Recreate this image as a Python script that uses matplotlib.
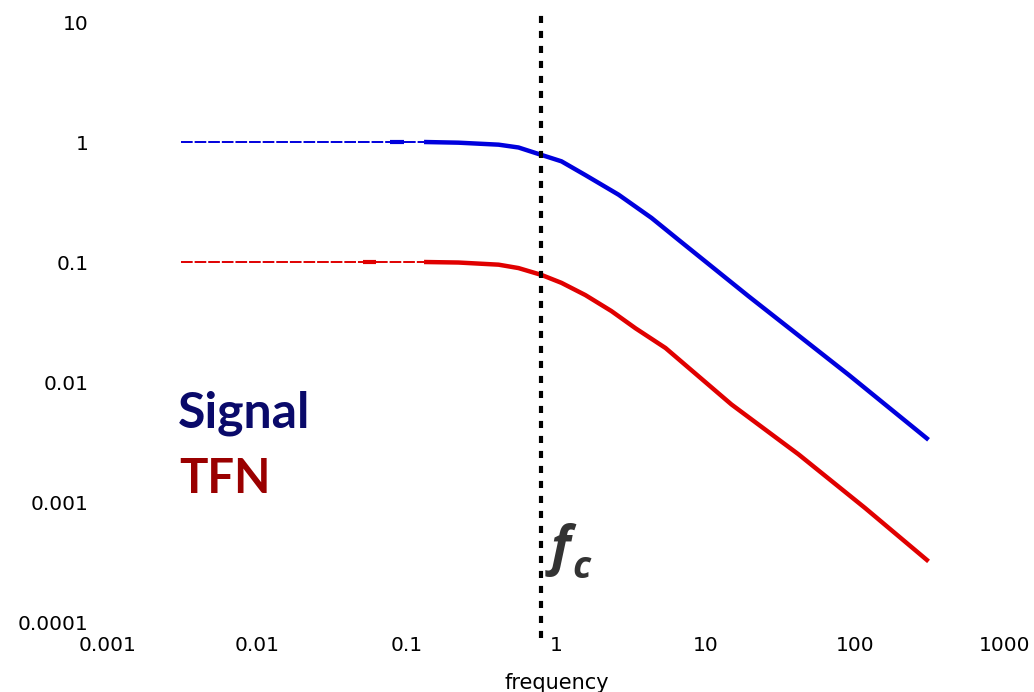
import matplotlib.pyplot as plt
from matplotlib.ticker import FixedLocator, NullLocator

plt.rcParams['font.family'] = 'DejaVu Sans'

# transfer curves
signal_freq = [0.0031, 0.077, 0.095, 0.13, 0.221, 0.41, 0.557, 0.794, 1.08, 1.56,
               2.60, 4.32, 6.55, 19.2, 89.8, 308]
signal_vals = [1.0, 1.0, 1.0, 1.0, 0.987, 0.95, 0.90, 0.78, 0.69, 0.53,
               0.364, 0.233, 0.153, 0.052, 0.0115, 0.0033]

tfn_freq = [0.0031, 0.051, 0.062, 0.13, 0.221, 0.41, 0.557, 0.794, 1.08, 1.56,
            2.33, 3.38, 5.36, 14.8, 41.5, 116, 308]
tfn_vals = [0.1, 0.1, 0.1, 0.1, 0.099, 0.095, 0.089, 0.078, 0.067, 0.053,
            0.039, 0.028, 0.0192, 0.0065, 0.0025, 0.00089, 0.00032]

f_cut = 0.79

x_ticks = [0.001, 0.01, 0.1, 1, 10, 100, 1000]
x_labels = ['0.001', '0.01', '0.1', '1', '10', '100', '1000']
y_ticks = [0.0001, 0.001, 0.01, 0.1, 1, 10]
y_labels = ['0.0001', '0.001', '0.01', '0.1', '1', '10']

blue = '#0000dd'
red = '#e00000'

fig = plt.figure(figsize=(10.34, 6.92), dpi=100)
ax = fig.add_axes([108 / 1034, 1 - 622 / 692, 897 / 1034, 600 / 692])
ax.set_xscale('log')
ax.set_yscale('log')
ax.set_xlim(0.001, 1000)
ax.set_ylim(0.0001, 10)


def draw_curve(f, v, color):
    # thin dashed plateau, a short heavy piece, thin again, then heavy roll-off
    ax.plot(f[0:2], v[0:2], color=color, lw=1.4, dashes=(6, 1))
    ax.plot(f[1:3], v[1:3], color=color, lw=3, solid_capstyle='butt')
    ax.plot(f[2:4], v[2:4], color=color, lw=1.4, dashes=(6, 1))
    ax.plot(f[3:], v[3:], color=color, lw=3.2, solid_capstyle='butt',
            solid_joinstyle='round')


draw_curve(signal_freq, signal_vals, blue)
draw_curve(tfn_freq, tfn_vals, red)

ax.axvline(f_cut, ymin=-0.027, ymax=1.012, color='black', lw=3,
           dashes=(1.7, 1.9), clip_on=False)

for s in ax.spines.values():
    s.set_visible(False)
ax.xaxis.set_major_locator(FixedLocator(x_ticks))
ax.yaxis.set_major_locator(FixedLocator(y_ticks))
ax.xaxis.set_minor_locator(NullLocator())
ax.yaxis.set_minor_locator(NullLocator())
ax.set_xticklabels(x_labels)
ax.set_yticklabels(y_labels)
ax.tick_params(length=0, labelsize=14.5, pad=14)
ax.tick_params(axis='x', pad=10)
ax.set_xlabel('frequency', fontsize=15, labelpad=13)

fig.text(178 / 1034, 1 - 428 / 692, 'Signal', fontsize=36, fontweight='bold',
         family='Lato', color='#0a0a6a', va='baseline')
fig.text(179 / 1034, 1 - 493 / 692, 'TFN', fontsize=34, fontweight='bold',
         family='Lato', color='#9a0000', va='baseline')

fig.text(551 / 1034, 1 - 564 / 692, 'f', fontsize=38, fontweight='bold',
         fontstyle='italic', family='Open Sans', color='#333333', va='baseline')
fig.text(572 / 1034, 1 - 578 / 692, 'c', fontsize=27, fontweight='bold',
         fontstyle='italic', family='Open Sans', color='#333333', va='baseline')

fig.savefig('out.png', dpi=100)
